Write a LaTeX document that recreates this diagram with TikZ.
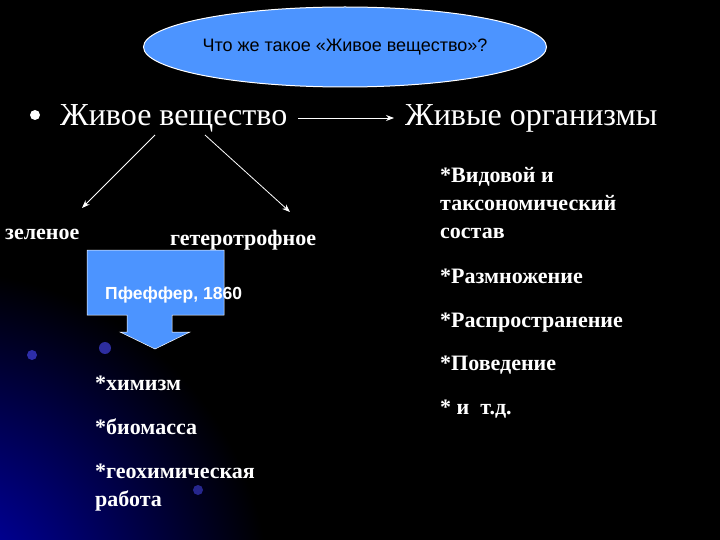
\documentclass[tikz,border=0pt]{standalone}
\usepackage{fontspec}
\setmainfont{Liberation Serif}
\setsansfont{Liberation Sans}
\usetikzlibrary{shapes.geometric,arrows.meta}
\begin{document}
\begin{tikzpicture}[x=1pt,y=-1pt,
  wt/.style={text=white,font=\fontsize{32}{34}\selectfont,anchor=base west,inner sep=0},
  lst/.style={text=white,font=\bfseries\fontsize{22}{28}\selectfont,anchor=base west,inner sep=0,align=left},
  conn/.style={white,line width=0.8pt,-{Stealth[length=8pt,width=6pt]}}]
\useasboundingbox (0,0) rectangle (720,540);
\fill[black] (0,0) rectangle (720,540);
\begin{scope}
\clip (0,0) rectangle (720,540);
\shade[inner color=blue!75!black,outer color=black] (-60,600) circle (330);
\foreach \r/\o in {300/0.5,330/0.35,360/0.25}{
  \draw[blue!70!white,opacity=\o,line width=1.5pt] (400,640) ++(160:\r) arc (160:95:\r);}
\fill[blue!70!white,opacity=0.6] (32,355) circle (5);
\fill[blue!70!white,opacity=0.6] (105,348) circle (6);
\fill[blue!70!white,opacity=0.5] (198,490) circle (5);
\end{scope}
\node[ellipse,fill=blue!60!cyan!70!white,draw=white,line width=1pt,minimum width=346,minimum height=80,inner sep=0,
  font=\sffamily\fontsize{18}{20}\selectfont] (title) at (345,47) {Что же такое «Живое вещество»?};
\fill[white] (35,115) circle (5);
\node[wt] (lv) at (60,126) {Живое вещество};
\node[wt] (lo) at (405,126) {Живые организмы};
\coordinate (a1) at (298,118);
\coordinate (a2) at (394,118);
\draw[conn] (a1) -- (a2);
\node[lst] (gr) at (5,240) {зеленое};
\node[lst] (ht) at (170,245) {гетеротрофное};
\coordinate (s1) at (155,135);
\coordinate (s2) at (205,135);
\draw[conn] (s1) -- (82,208);
\draw[conn] (s2) -- (290,212);
\fill[blue!60!cyan!70!white,draw=white,line width=0.5pt] (87,250) -- (224,250) -- (224,315) -- (172,315) -- (172,332) -- (190,332) -- (155,349) -- (120,332) -- (127,332) -- (127,315) -- (87,315) -- cycle;
\node[text=white,font=\sffamily\bfseries\fontsize{17.5}{19}\selectfont,anchor=base west,inner sep=0] (pf) at (105,299) {Пфеффер, 1860};
\node[lst] (h1) at (95,390) {*химизм};
\node[lst] (h2) at (95,434) {*биомасса};
\node[lst] (h3) at (95,478) {*геохимическая};
\node[lst] (h3b) at (95,506) {работа};
\node[lst] (r1) at (440,183) {*Видовой и};
\node[lst] (r1b) at (440,211) {таксономический};
\node[lst] (r1c) at (440,239) {состав};
\node[lst] (r2) at (440,283) {*Размножение};
\node[lst] (r3) at (440,327) {*Распространение};
\node[lst] (r4) at (440,370) {*Поведение};
\node[lst] (r5) at (440,414) {* и\ \ т.д.};
\end{tikzpicture}
\end{document}
